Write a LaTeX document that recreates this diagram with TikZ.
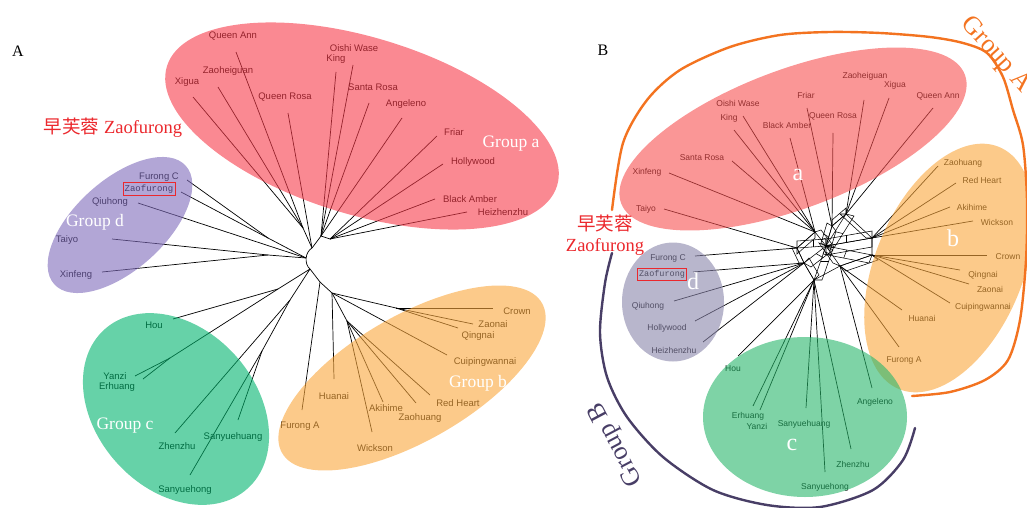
\documentclass[tikz,border=0pt]{standalone}
\usepackage{fontspec}
\setmainfont{Liberation Serif}
\setsansfont{Liberation Sans}
\setmonofont{Liberation Mono}
\newfontfamily\cjkfont{Noto Sans CJK SC}
\usepackage{tikz}
\usetikzlibrary{shapes.geometric,calc}
\definecolor{grpred}{RGB}{247,58,73}
\definecolor{grpredb}{RGB}{247,80,80}
\definecolor{grpblue}{RGB}{127,107,187}
\definecolor{grpgray}{RGB}{137,133,170}
\definecolor{grpgreen}{RGB}{0,180,110}
\definecolor{grpgreenb}{RGB}{40,182,107}
\definecolor{grporange}{RGB}{250,167,60}
\definecolor{arcorange}{RGB}{243,115,32}
\definecolor{arcpurple}{RGB}{72,62,102}
\definecolor{zred}{RGB}{235,40,45}

\begin{document}
\begin{tikzpicture}[x=1pt, y=-1pt,
        every node/.style={inner sep=0pt},
        leafA/.style={font=\sffamily\fontsize{9.5}{10}\selectfont},
        leafB/.style={font=\sffamily\fontsize{8.5}{9}\selectfont},
        branch/.style={line width=0.7pt},
        web/.style={line width=0.55pt},
        blob/.style={ellipse, fill opacity=0.6, inner sep=0pt},
        grplabel/.style={font=\rmfamily\fontsize{17.5}{18}\selectfont, text=white},
        grpletter/.style={font=\rmfamily\fontsize{24}{24}\selectfont, text=white},
        panel/.style={font=\rmfamily\fontsize{16}{16}\selectfont},
        cultivar/.style={font=\rmfamily\fontsize{18.5}{21}\selectfont, text=zred},
        zbox/.style={draw=zred, line width=0.5pt},
        bigarc/.style={line width=2.4pt, line cap=round}
    ]
    \useasboundingbox (0,0) rectangle (1027,508);
    \clip (0,0) rectangle (1027,508);

    % ---- panel A: unrooted tree
    \coordinate (hA1) at (312,248);
    \coordinate (hA0) at (306,258);
    \coordinate (hA2) at (310,269);
    \coordinate (aL) at (303,228);
    \coordinate (aR) at (321,236);
    \coordinate (aR2) at (330,239);
    \coordinate (dA1) at (268,238);
    \coordinate (dA2) at (268,255);
    \coordinate (cA1) at (278,289);
    \coordinate (cA11) at (170,358);
    \coordinate (cA2) at (290,300);
    \coordinate (cA21) at (262,351);
    \coordinate (bA1) at (320,282);
    \coordinate (bA2) at (332,293);
    \coordinate (bA3) at (396,308);
    \coordinate (bA4) at (347,321);

    \draw[branch] (hA1) .. controls (305,252) and (304,264) .. (hA2);
    \draw[branch] (hA1) -- (aL) (hA1) -- (aR) -- (aR2)
        (hA0) -- (dA1) (hA0) -- (dA2)
        (hA2) -- (cA1) -- (cA11) (hA2) -- (cA2) -- (cA21)
        (hA2) -- (bA1) -- (bA2) -- (bA3) (bA2) -- (bA4);

    \foreach \p/\tx/\ty/\lx/\ly/\t [count=\i] in {
        aL/193/97/187/82/Xigua, aL/218/87/228/71/Zaoheiguan, aL/236/52/233/36/Queen Ann,
        hA1/288/113/285/97/Queen Rosa, aR/353/65/354/48/Oishi Wase, aR/336/72/336/59/King,
        aR/369/103/373/87/Santa Rosa, aR/402/118/406/104/Angeleno, aR2/437/136/454/132/Friar,
        aR2/443/164/473/162/Hollywood, aR2/435/199/470/199/Black Amber, aR2/467/212/503/212/Heizhenzhu,
        dA1/187/180/159/177/Furong C, hA0/138/203/110/202/Qiuhong, dA2/112/239/67/240/Taiyo,
        dA2/102/272/76/275/Xinfeng, cA1/173/319/154/325/Hou, cA11/135/376/115/376/Yanzi,
        cA11/143/379/117/387/Erhuang, cA2/175/433/177/446/Zhenzhu, cA21/238/420/233/437/Sanyuehuang,
        cA21/190/475/185/490/Sanyuehong, bA3/493/308/517/311/Crown, bA3/473/324/493/324/Zaonai,
        bA3/458/328/478/336/Qingnai, bA2/447/355/485/362/Cuipingwannai, bA4/430/395/458/403/Red Heart,
        bA4/416/403/420/418/Zaohuang, bA4/383/402/386/408/Akihime, bA4/372/432/375/448/Wickson,
        bA2/334/379/334/396/Huanai, bA1/302/410/300/426/Furong A}
    {
        \coordinate (tA\i) at (\tx,\ty);
        \node[leafA] (lA\i) at (\lx,\ly) {\t};
        \draw[branch] (\p) -- (tA\i);
    }
    \coordinate (tAz) at (181,192);
    \node[font=\ttfamily\fontsize{9}{9}\selectfont] (zfA) at (149,189) {Zaofurong};
    \draw[branch] (dA1) -- (tAz);

    % ---- panel B: split network
    \coordinate (N0) at (826,246);
    \coordinate (hR1) at (815,232);
    \coordinate (hR2) at (832,226);
    \coordinate (hR3) at (846,214);
    \coordinate (hT) at (797,248);
    \coordinate (hD) at (804,263);
    \coordinate (hC) at (814,280);
    \coordinate (hC2) at (840,266);
    \coordinate (hO1) at (872,238);
    \coordinate (hO2) at (872,255);

    \foreach \h/\sx/\sy in {hR1/6/-2, hR2/-5/-3, hR3/8/2, hT/0/-7, hD/7/4,
        hC/8/0, hC2/-7/-3, hO1/0/-7, hO2/-3/8}
    {
        \draw[web] (N0) -- (\h) -- ++(\sx,\sy) -- ($(N0)+(\sx,\sy)$) -- cycle;
        \draw[web] ($(N0)!0.45!(\h)$) -- ++(\sx,\sy);
    }
    \foreach \a/\b/\sx/\sy in {hR1/hT/0/6, hO1/hR3/-6/0, hC/hD/5/-5, hC2/hO2/6/5,
        N0/hR2/4/5, hT/hD/-5/0, hR3/hR2/0/-6, N0/hO1/0/9}
    {
        \draw[web] (\a) -- (\b) -- ++(\sx,\sy) -- ($(\a)+(\sx,\sy)$) -- cycle;
    }
    \draw[web] (hT) -- (hR1) (hD) -- (hC) (hO1) -- (hO2) (hC) -- (hC2)
        (hC2) -- (hO2) (hR2) -- (hR3) (hT) -- (hD);

    \foreach \p/\tx/\ty/\lx/\ly/\t [count=\i] in {
        hR1/743/116/738/103/Oishi Wase, hR1/734/130/729/118/King, hR1/732/161/702/158/Santa Rosa,
        hR1/669/173/647/172/Xinfeng, hR1/790/138/787/125/Black Amber, hR2/807/108/806/95/Friar,
        hR2/833/133/833/116/Queen Rosa, hR3/864/100/865/76/Zaoheiguan, hR3/889/98/895/85/Xigua,
        hR3/933/108/938/96/Queen Ann, hT/664/209/646/209/Taiyo, hT/695/256/668/258/Furong C,
        hD/674/301/648/306/Qiuhong, hD/695/321/667/328/Hollywood, hD/703/342/674/350/Heizhenzhu,
        hC/738/356/733/369/Hou, hC/753/406/748/416/Erhuang, hC/760/410/757/426/Yanzi,
        hC/806/408/804/424/Sanyuehuang, hC/825/472/825/487/Sanyuehong, hC/851/449/853/464/Zhenzhu,
        hC2/872/388/875/402/Angeleno, hC2/902/310/922/318/Huanai, hC2/899/347/904/360/Furong A,
        hO1/938/166/963/163/Zaohuang, hO1/956/183/982/180/Red Heart, hO1/950/207/972/207/Akihime,
        hO1/973/221/997/222/Wickson, hO2/987/255/1008/257/Crown, hO2/960/270/983/275/Qingnai,
        hO2/969/284/990/289/Zaonai, hO2/950/303/983/307/Cuipingwannai}
    {
        \coordinate (tB\i) at (\tx,\ty);
        \node[leafB] (lB\i) at (\lx,\ly) {\t};
        \draw[branch] (\p) -- (tB\i);
    }
    \coordinate (tBz) at (693,272);
    \node[font=\ttfamily\fontsize{8.5}{9}\selectfont] (zfB) at (662,274) {Zaofurong};
    \draw[branch] (hD) -- (tBz);

    % ---- group ellipses
    \node[blob, fill=grpred, minimum width=408pt, minimum height=177pt, rotate=-17] (ellA) at (362,126) {};
    \node[blob, fill=grpblue, minimum width=177pt, minimum height=90pt, rotate=42] (ellD) at (120,225) {};
    \node[blob, fill=grpgreen, minimum width=214pt, minimum height=160pt, rotate=-48] (ellC) at (176,409) {};
    \node[blob, fill=grporange, minimum width=300pt, minimum height=125pt, rotate=30] (ellB) at (412,378) {};
    \node[blob, fill=grpredb, minimum width=367pt, minimum height=139pt, rotate=20.5] (ellBa) at (793,139) {};
    \node[blob, fill=grporange, minimum width=262pt, minimum height=148pt, rotate=67.5] (ellBb) at (949,268) {};
    \node[blob, fill=grpgray, minimum width=102pt, minimum height=119pt] (ellBd) at (673,302) {};
    \node[blob, fill=grpgreenb, minimum width=204pt, minimum height=160pt] (ellBc) at (805,417) {};

    \node[grplabel] (gla) at (511,144) {Group a};
    \node[grplabel] (gld) at (95,222) {Group d};
    \node[grplabel] (glc) at (125,426) {Group c};
    \node[grplabel] (glb) at (478,383) {Group b};
    \node[grpletter] (gBa) at (798,175) {a};
    \node[grpletter] (gBb) at (953,238) {b};
    \node[grpletter] (gBc) at (792,445) {c};
    \node[grpletter] (gBd) at (693,281) {d};

    \draw[zbox] ($(zfA.south west)+(-1.5,2)$) rectangle ($(zfA.north east)+(1.5,-2)$);
    \draw[zbox] ($(zfB.south west)+(-1.5,2)$) rectangle ($(zfB.north east)+(1.5,-2)$);
    \node[cultivar] (cvA) at (113,128) {{\cjkfont 早芙蓉} Zaofurong};
    \node[cultivar, align=center] (cvB) at (605,235) {{\cjkfont 早芙蓉}\\Zaofurong};

    % ---- outer brackets of panel B
    \draw[bigarc, arcorange] plot[smooth] coordinates {(612,210) (623,143) (647,100) (680,70)
        (730,47) (780,35) (830,32) (880,33) (930,37) (963,43) (987,53) (1003,77) (1013,110)
        (1023,145) (1027,200) (1026,260) (1020,320) (1008,360) (985,380) (950,392) (912,396)};
    \draw[bigarc, arcpurple] plot[smooth] coordinates {(612,253) (605,283) (600,333) (607,377)
        (627,417) (663,457) (713,490) (767,505) (820,507) (873,490) (903,460) (915,428)};
    \node[font=\rmfamily\fontsize{26}{26}\selectfont, text=arcorange, rotate=-48] (gA) at (996,55) {Group A};
    \node[font=\rmfamily\fontsize{26}{26}\selectfont, text=arcpurple, rotate=118] (gB) at (616,444) {Group B};

    \node[panel] (pA) at (18,51) {A};
    \node[panel] (pB) at (603,50) {B};
\end{tikzpicture}
\end{document}
